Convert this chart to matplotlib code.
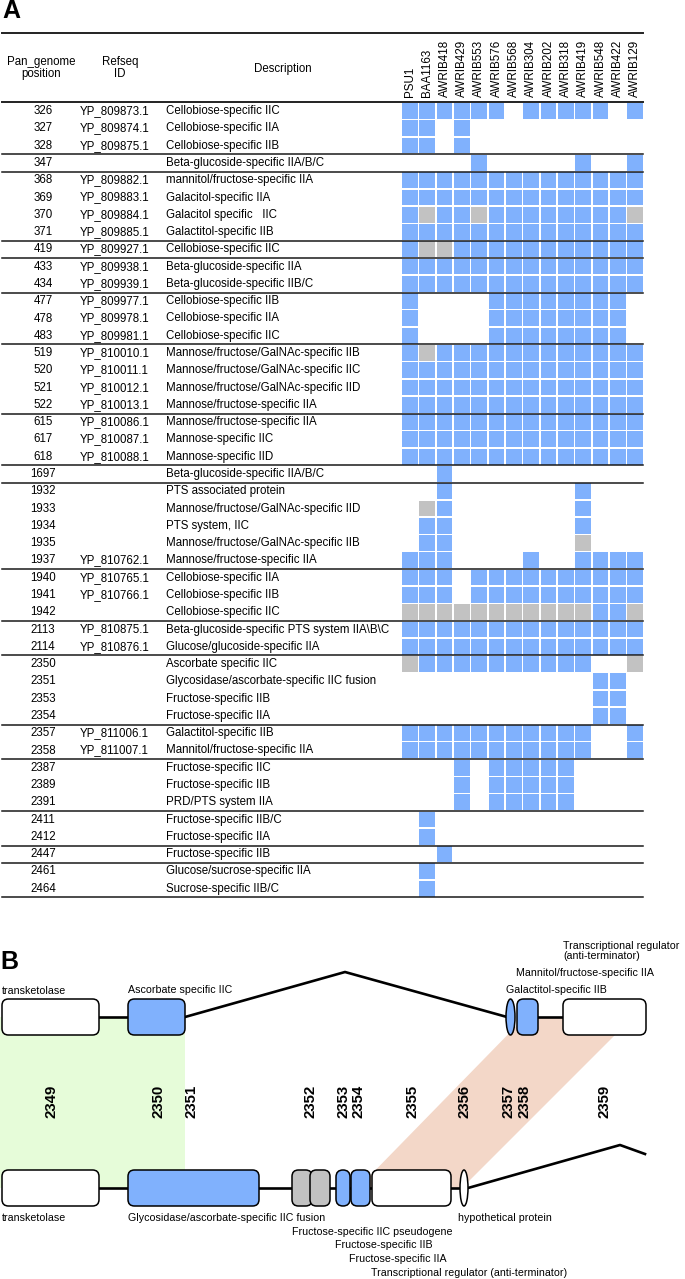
import matplotlib
matplotlib.use("Agg")
import matplotlib.pyplot as plt
from matplotlib.patches import Rectangle, FancyBboxPatch, Ellipse, Polygon

plt.rcParams['font.family'] = ['Liberation Sans', 'DejaVu Sans']

# ---- panel A data ----
strains = ['PSU1', 'BAA1163', 'AWRIB418', 'AWRIB429', 'AWRIB553', 'AWRIB576', 'AWRIB568',
           'AWRIB304', 'AWRIB202', 'AWRIB318', 'AWRIB419', 'AWRIB548', 'AWRIB422', 'AWRIB129']

positions = ['326', '327', '328', '347', '368', '369', '370', '371', '419', '433', '434',
             '477', '478', '483', '519', '520', '521', '522', '615', '617', '618', '1697',
             '1932', '1933', '1934', '1935', '1937', '1940', '1941', '1942', '2113', '2114',
             '2350', '2351', '2353', '2354', '2357', '2358', '2387', '2389', '2391', '2411',
             '2412', '2447', '2461', '2464']

refseq = ['YP_809873.1', 'YP_809874.1', 'YP_809875.1', '', 'YP_809882.1', 'YP_809883.1',
          'YP_809884.1', 'YP_809885.1', 'YP_809927.1', 'YP_809938.1', 'YP_809939.1',
          'YP_809977.1', 'YP_809978.1', 'YP_809981.1', 'YP_810010.1', 'YP_810011.1',
          'YP_810012.1', 'YP_810013.1', 'YP_810086.1', 'YP_810087.1', 'YP_810088.1', '',
          '', '', '', '', 'YP_810762.1', 'YP_810765.1', 'YP_810766.1', '', 'YP_810875.1',
          'YP_810876.1', '', '', '', '', 'YP_811006.1', 'YP_811007.1', '', '', '', '', '',
          '', '', '']

descriptions = [
    'Cellobiose-specific IIC', 'Cellobiose-specific IIA', 'Cellobiose-specific IIB',
    'Beta-glucoside-specific IIA/B/C', 'mannitol/fructose-specific IIA',
    'Galacitol-specific IIA', 'Galacitol specific   IIC', 'Galactitol-specific IIB',
    'Cellobiose-specific IIC', 'Beta-glucoside-specific IIA', 'Beta-glucoside-specific IIB/C',
    'Cellobiose-specific IIB', 'Cellobiose-specific IIA', 'Cellobiose-specific IIC',
    'Mannose/fructose/GalNAc-specific IIB', 'Mannose/fructose/GalNAc-specific IIC',
    'Mannose/fructose/GalNAc-specific IID', 'Mannose/fructose-specific IIA',
    'Mannose/fructose-specific IIA', 'Mannose-specific IIC', 'Mannose-specific IID',
    'Beta-glucoside-specific IIA/B/C', 'PTS associated protein',
    'Mannose/fructose/GalNAc-specific IID', 'PTS system, IIC',
    'Mannose/fructose/GalNAc-specific IIB', 'Mannose/fructose-specific IIA',
    'Cellobiose-specific IIA', 'Cellobiose-specific IIB', 'Cellobiose-specific IIC',
    'Beta-glucoside-specific PTS system IIA\\B\\C', 'Glucose/glucoside-specific IIA',
    'Ascorbate specific IIC', 'Glycosidase/ascorbate-specific IIC fusion',
    'Fructose-specific IIB', 'Fructose-specific IIA', 'Galactitol-specific IIB',
    'Mannitol/fructose-specific IIA', 'Fructose-specific IIC', 'Fructose-specific IIB',
    'PRD/PTS system IIA', 'Fructose-specific IIB/C', 'Fructose-specific IIA',
    'Fructose-specific IIB', 'Glucose/sucrose-specific IIA', 'Sucrose-specific IIB/C']

# 1 = present, 2 = present (grey), 0 = absent
presence = [
    '11111101111101', '11010000000000', '11010000000000', '00001000001001',
    '11111111111111', '11111111111111', '12112111111112', '11111111111111',
    '12211111111111', '11111111111111', '11111111111111',
    '10000111111110', '10000111111110', '10000111111110',
    '12111111111111', '11111111111111', '11111111111111', '11111111111111',
    '11111111111111', '11111111111111', '11111111111111', '00100000000000',
    '00100000001000', '02100000001000', '01100000001000', '01100000002000',
    '11100001001111', '11101111111111', '11101111111111', '22222222222112',
    '11111111111111', '11111111111111',
    '21111111111002', '00000000000110', '00000000000110', '00000000000110',
    '11111111111001', '11111111111001',
    '00010111110000', '00010111110000', '00010111110000',
    '01000000000000', '01000000000000', '00100000000000',
    '01000000000000', '01000000000000']

group_sizes = [3, 1, 4, 1, 2, 3, 4, 3, 1, 5, 3, 2, 4, 2, 3, 2, 1, 2]

# ---- panel B data ----
# (label number, x start, x end, shape, colour)
top_genes = [('2349', 2, 99, 'box', 'white'), ('2350', 128, 185, 'box', 'blue'),
             ('2357', 506, 515, 'ell', 'blue'), ('2358', 517, 538, 'box', 'blue'),
             ('2359', 563, 646, 'box', 'white')]
bottom_genes = [('2349', 2, 99, 'box', 'white'), ('2350', 128, 259, 'box', 'blue'),
                ('2352', 292, 312, 'box', 'grey'), ('2352', 310, 330, 'box', 'grey'),
                ('2353', 336, 350, 'pill', 'blue'), ('2354', 351, 370, 'box', 'blue'),
                ('2355', 372, 451, 'box', 'white'), ('2356', 460, 468, 'ell', 'white')]
gene_numbers = ['2349', '2350', '2351', '2352', '2353', '2354', '2355', '2356', '2357', '2358', '2359']
number_x = [52, 159, 192, 311, 344, 359, 413, 465, 509, 525, 605]

top_labels = [('transketolase', 2, 991), ('Ascorbate specific IIC', 128, 990),
              ('Galactitol-specific IIB', 506, 990), ('Mannitol/fructose-specific IIA', 516, 973),
              ('Transcriptional regulator\n(anti-terminator)', 563, 951)]
bottom_labels = [('transketolase', 2, 1218), ('Glycosidase/ascorbate-specific IIC fusion', 128, 1218),
                 ('hypothetical protein', 458, 1218),
                 ('Fructose-specific IIC pseudogene', 292, 1232),
                 ('Fructose-specific IIB', 335, 1245), ('Fructose-specific IIA', 349, 1259),
                 ('Transcriptional regulator (anti-terminator)', 371, 1273)]

colors = {'blue': '#80b1fd', 'grey': '#c2c2c2', 'white': 'white'}

fig = plt.figure(figsize=(6.85, 12.79), dpi=100)
ax = fig.add_axes([0, 0, 1, 1])
ax.set_xlim(0, 685)
ax.set_ylim(1279, 0)
ax.axis('off')

# ================= Panel A =================
ax.text(2, 11, 'A', fontsize=18, fontweight='bold', va='center', ha='left')
x_left, x_right = 2, 643
ax.plot([x_left, x_right], [32.5, 32.5], color='#222222', lw=1.4)
ax.plot([x_left, x_right], [101.5, 101.5], color='#222222', lw=1.4)

fs = 8.3
ax.text(41, 68, 'Pan_genome\nposition', fontsize=fs, ha='center', va='center', linespacing=1.05)
ax.text(120, 68, 'Refseq\nID', fontsize=fs, ha='center', va='center', linespacing=1.05)
ax.text(283, 69, 'Description', fontsize=fs, ha='center', va='center')

row0 = 102.5
pitch_y = 17.28
col0 = 402
pitch_x = 17.33
cell = 15.8

for j, s in enumerate(strains):
    ax.text(col0 + j * pitch_x + cell / 2, 97, s, fontsize=8.4, rotation=90,
            ha='center', va='bottom')

for i, (pos, rid, desc, pres) in enumerate(zip(positions, refseq, descriptions, presence)):
    yc = row0 + (i + 0.5) * pitch_y
    ax.text(43, yc, pos, fontsize=fs, ha='center', va='center')
    if rid:
        ax.text(80, yc, rid, fontsize=fs, ha='left', va='center')
    ax.text(166, yc, desc, fontsize=fs, ha='left', va='center')
    for j, v in enumerate(pres):
        if v == '0':
            continue
        c = colors['blue'] if v == '1' else colors['grey']
        ax.add_patch(Rectangle((col0 + j * pitch_x, row0 + i * pitch_y + 0.6), cell, cell,
                               facecolor=c, edgecolor='none'))

cum = 0
for g in group_sizes:
    cum += g
    yl = row0 + cum * pitch_y
    ax.plot([x_left, x_right], [yl, yl], color='#1a1a1a', lw=1.1)

# ================= Panel B =================
ax.text(0, 962, 'B', fontsize=18, fontweight='bold', va='center', ha='left')

top_y, bot_y = 1017, 1188
gh = 36

# shaded correspondences
ax.add_patch(Rectangle((0, top_y), 185, bot_y - top_y, facecolor='#e6fcd9', edgecolor='none', zorder=0))
ax.add_patch(Polygon([(525, top_y), (633, top_y), (462, bot_y), (358, bot_y)],
                     closed=True, facecolor='#f3d7c8', edgecolor='none', zorder=0))

# backbone lines
ax.plot([99, 128], [top_y, top_y], color='black', lw=1.9, zorder=1)
ax.plot([185, 345, 507], [top_y, 972, top_y], color='black', lw=1.9, zorder=1)
ax.plot([538, 563], [top_y, top_y], color='black', lw=1.9, zorder=1)
ax.plot([99, 460], [bot_y, bot_y], color='black', lw=1.9, zorder=1)
ax.plot([468, 620, 645], [bot_y, 1145, 1154], color='black', lw=1.9, zorder=1)


def draw_gene(x0, x1, yc, shape, col):
    fc = colors[col]
    if shape == 'ell':
        p = Ellipse(((x0 + x1) / 2, yc), x1 - x0, gh, facecolor=fc, edgecolor='black', lw=1.1, zorder=3)
    else:
        r = 7 if shape == 'pill' else 6.5
        p = FancyBboxPatch((x0, yc - gh / 2), x1 - x0, gh,
                           boxstyle='round,pad=0,rounding_size=%s' % r,
                           facecolor=fc, edgecolor='black', lw=1.1, zorder=3)
    ax.add_patch(p)


for _, x0, x1, shape, col in top_genes:
    draw_gene(x0, x1, top_y, shape, col)
for _, x0, x1, shape, col in bottom_genes:
    draw_gene(x0, x1, bot_y, shape, col)

for num, xn in zip(gene_numbers, number_x):
    ax.text(xn, 1101, num, fontsize=10.8, fontweight='bold', rotation=90,
            ha='center', va='center', zorder=4)

for txt, xt, yt in top_labels + bottom_labels:
    ax.text(xt, yt, txt, fontsize=7.7, ha='left', va='center', linespacing=1.1, zorder=4)

fig.savefig('out.png', dpi=100)
